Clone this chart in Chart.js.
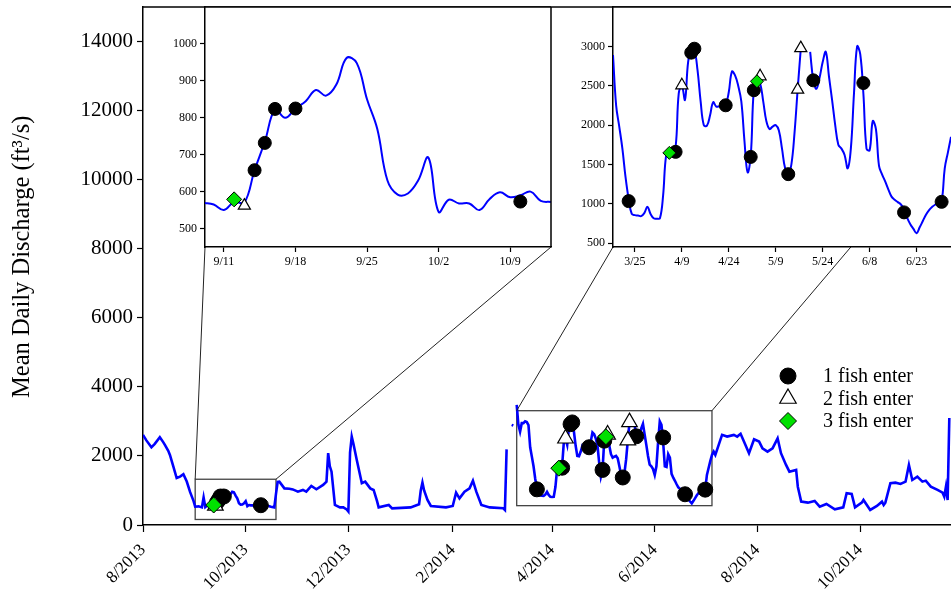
<!DOCTYPE html>
<html>
<head>
<meta charset="utf-8">
<script src="https://cdn.jsdelivr.net/npm/chart.js@4.4.1/dist/chart.umd.min.js"></script>
<style>
  html, body { margin: 0; padding: 0; background: #fff; width: 951px; height: 604px; overflow: hidden; }
  canvas { position: absolute; }
  #main { left: 0; top: 0; width: 951px; height: 604px; }
  #inset1 { left: 160px; top: 0; width: 393px; height: 290px; }
  #inset2 { left: 570px; top: 0; width: 381px; height: 290px; }
</style>
</head>
<body>
<canvas id="main" width="951" height="604"></canvas>
<canvas id="inset1" width="393" height="290"></canvas>
<canvas id="inset2" width="381" height="290"></canvas>
<script>
// ---- Mean daily discharge outside the two detail windows ----
const flowDates = [
  '2013-08-01','2013-08-03','2013-08-06','2013-08-08','2013-08-11','2013-08-13','2013-08-14','2013-08-16',
  '2013-08-17','2013-08-19','2013-08-21','2013-08-23','2013-08-25','2013-08-27','2013-08-29','2013-08-31',
  '2013-09-01','2013-09-03','2013-09-05','2013-09-06','2013-09-07','2013-09-08',
  '2013-10-14','2013-10-16','2013-10-18','2013-10-19','2013-10-20','2013-10-21','2013-10-24','2013-10-27',
  '2013-10-29','2013-11-01','2013-11-04','2013-11-06','2013-11-09','2013-11-12','2013-11-16','2013-11-18',
  '2013-11-19','2013-11-20','2013-11-21','2013-11-23','2013-11-26','2013-11-28','2013-11-30','2013-12-01',
  '2013-12-02','2013-12-03','2013-12-04','2013-12-06','2013-12-09','2013-12-11','2013-12-14','2013-12-16',
  '2013-12-18','2013-12-19','2013-12-25','2013-12-27','2014-01-07','2014-01-12','2014-01-13','2014-01-14',
  '2014-01-15','2014-01-17','2014-01-19','2014-01-28','2014-02-01','2014-02-03','2014-02-05','2014-02-08',
  '2014-02-11','2014-02-13','2014-02-15','2014-02-18','2014-02-23','2014-03-03','2014-03-04','2014-03-05',
  '2014-03-06','2014-03-08','2014-03-09','2014-03-10','2014-03-11','2014-03-12','2014-03-13','2014-03-14',
  '2014-03-15','2014-03-16','2014-03-17',
  '2014-07-05','2014-07-06','2014-07-07','2014-07-09','2014-07-11','2014-07-14','2014-07-18','2014-07-20',
  '2014-07-22','2014-07-24','2014-07-27','2014-07-30','2014-08-02','2014-08-04','2014-08-07','2014-08-10',
  '2014-08-13','2014-08-15','2014-08-18','2014-08-20','2014-08-24','2014-08-25','2014-08-27','2014-08-31',
  '2014-09-04','2014-09-07','2014-09-11','2014-09-16','2014-09-21','2014-09-23','2014-09-26','2014-09-28',
  '2014-10-02','2014-10-03','2014-10-07','2014-10-11','2014-10-14','2014-10-15','2014-10-16','2014-10-19',
  '2014-10-22','2014-10-25','2014-10-28','2014-10-30','2014-11-01','2014-11-04','2014-11-07','2014-11-09',
  '2014-11-12','2014-11-16','2014-11-19','2014-11-20','2014-11-21','2014-11-22','2014-11-23'
];
const flowValues = [
  2610, 2450, 2250, 2350, 2540, 2400, 2320, 2150,
  2030, 1700, 1360, 1400, 1470, 1260, 950, 700,
  530, 540, 510, 800, 520, 560,
  560, 530, 510, 900, 1250, 1255, 1060, 1050,
  1030, 965, 1015, 965, 1130, 1035, 1160, 1255,
  2080, 1700, 1545, 580, 510, 510, 450, 390,
  2100, 2560, 2350, 1880, 1210, 1255, 1060, 1015,
  700, 510, 580, 483, 510, 600, 1000, 1230,
  1000, 725, 550, 510, 550, 936, 773, 966,
  1063, 1285, 966, 580, 510, 483, 435, 2190,
  null, 2900, 2880, null, 3480, 2900, 2700, 2950,
  2950, 3000, 2980,
  2030, 2125, 2030, 2320, 2610, 2560, 2610, 2560,
  2640, 2415, 2080, 2480, 2415, 2220, 2125, 2220,
  2510, 2080, 1740, 1545, 1594, 1110, 676, 647,
  696, 531, 609, 454, 512, 918, 898, 512,
  647, 725, 435, 551, 676, 580, 647, 1208,
  1227, 1188, 1256, 1739, 1304, 1401, 1256, 1285,
  1111, 1015, 937, 821, 1111, 725, 3100
];

// ---- Daily discharge, 9 Sep - 13 Oct 2013 ----
const fall2013Start = '2013-09-09';
const fall2013Flow = [
  570, 565, 550, 572, 570, 658, 735, 822, 800, 825, 845, 875, 860, 890, 962, 948, 850, 770, 630, 592, 595, 630,
  692, 545, 578, 568, 568, 550, 580, 598, 585, 590, 600, 575, 572
];

// ---- Daily discharge, 18 Mar - 4 Jul 2014 ----
const spring2014Start = '2014-03-18';
const spring2014Flow = [
  2890, 2250, 1980, 1700, 1340, 1060, 870, 855, 850, 843, 880, 960, 870, 815,
  810, 815, 1100, 1620, 1660, 1690, 1720, 2400, 2500, 2320, 2800, 2960, 2950, 2700, 2300, 2000,
  1990, 2120, 2290, 2235, 2240, 2245, 2255, 2420, 2680, 2630, 2500, 2300, 1800, 1400,
  1600, 2450, 2570, 2530, 2300, 2050, 1950, 1980, 2000, 1930, 1700, 1450, 1380, 1500, 1900, 2450,
  2970, null, null, 2930, 2570, 2460, 2600, 2800, 2930, 2620, 2320, 2000, 1750, 1700, 1620,
  1450, 1700, 2400, 3000, 2900, 2400, 1700, 1680, 2050, 1950, 1480, 1370, 1280, 1180, 1090,
  1050, 1020, 990, 930, 820, 740, 680, 625, 700, 780, 860, 920, 960, 990, 1010,
  1030, 1450, 1650, 1850
];

// ---- Fish entry events ----
const oneFishDates = ['2013-09-14','2013-09-15','2013-09-16','2013-09-18','2013-10-10','2014-03-23','2014-04-07',
  '2014-04-12','2014-04-13','2014-04-23','2014-05-01','2014-05-02','2014-05-13','2014-05-21','2014-06-06',
  '2014-06-19','2014-07-01'];
const oneFishFlow = [658, 732, 824, 825, 573, 1033, 1659, 2920, 2970, 2251, 1595, 2442, 1376, 2568, 2534, 890, 1024];
const twoFishDates = ['2013-09-13','2014-04-09','2014-05-04','2014-05-16','2014-05-17'];
const twoFishFlow = [562, 2505, 2619, 2450, 2978];
const threeFishDates = ['2013-09-12','2014-04-05','2014-05-03'];
const threeFishFlow = [579, 1646, 2556];

// ---- Axis ticks ----
const mainTickDates = ['2013-08-01','2013-10-01','2013-12-01','2014-02-01','2014-04-01','2014-06-01','2014-08-01','2014-10-01'];
const mainTickLabels = ['8/2013','10/2013','12/2013','2/2014','4/2014','6/2014','8/2014','10/2014'];
const mainFlowTicks = [0, 2000, 4000, 6000, 8000, 10000, 12000, 14000];
const fallTickDates = ['2013-09-11','2013-09-18','2013-09-25','2013-10-02','2013-10-09'];
const fallTickLabels = ['9/11','9/18','9/25','10/2','10/9'];
const fallFlowTicks = [500, 600, 700, 800, 900, 1000];
const springTickDates = ['2014-03-25','2014-04-09','2014-04-24','2014-05-09','2014-05-24','2014-06-08','2014-06-23'];
const springTickLabels = ['3/25','4/9','4/24','5/9','5/24','6/8','6/23'];
const springFlowTicks = [500, 1000, 1500, 2000, 2500, 3000];

// ---- Detail windows marked on the full record ----
const fallWindow = { from: '2013-09-01', to: '2013-10-19', low: 160, high: 1325 };
const springWindow = { from: '2014-03-11', to: '2014-07-05', low: 560, high: 3310, linkDate: '2014-06-02' };

const SERIF = '"Liberation Serif", "Times New Roman", serif';
const dayOf = s => Date.UTC(+s.slice(0, 4), +s.slice(5, 7) - 1, +s.slice(8, 10)) / 864e5;
const pairs = (dates, values) => dates.map((d, i) => ({ x: dayOf(d), y: values[i] }));
const daily = (start, values) => values.map((v, i) => ({ x: dayOf(start) + i, y: v }));

// scales keep exactly the plot box given by the layout padding
const noScalePadding = s => { s.paddingTop = 0; s.paddingBottom = 0; s.paddingLeft = 0; s.paddingRight = 0; };

function datasets(lineData, lineWidth, tension, r) {
  return [
    { data: lineData, borderColor: '#0000ff', borderWidth: lineWidth, pointRadius: 0, tension: tension,
      spanGaps: false, fill: false, order: 4 },
    { data: pairs(oneFishDates, oneFishFlow), showLine: false, pointStyle: 'circle', pointRadius: r.circle,
      pointBackgroundColor: '#000', pointBorderColor: '#000', pointBorderWidth: 1, order: 3 },
    { data: pairs(twoFishDates, twoFishFlow), showLine: false, pointStyle: 'triangle', pointRadius: r.triangle,
      pointBackgroundColor: '#fff', pointBorderColor: '#000', pointBorderWidth: 1.2, order: 2 },
    { data: pairs(threeFishDates, threeFishFlow), showLine: false, pointStyle: 'rectRot', pointRadius: r.diamond,
      pointBackgroundColor: '#00e000', pointBorderColor: '#000', pointBorderWidth: 1, order: 1 }
  ];
}

function dateAxis(min, max, tickDates, tickLabels, opts) {
  return {
    type: 'linear', min: min, max: max,
    afterBuildTicks: s => { s.ticks = tickDates.map(d => ({ value: dayOf(d) })); },
    afterFit: s => { s.height = opts.height; noScalePadding(s); },
    ticks: { autoSkip: false, maxRotation: opts.rotation, minRotation: opts.rotation, padding: opts.padding,
      color: '#000', font: { family: SERIF, size: opts.size }, callback: (v, i) => tickLabels[i] },
    grid: { drawOnChartArea: false, tickLength: opts.tick, color: '#000', tickColor: '#000', tickWidth: 1.2 },
    border: { color: '#000', width: 1.5 }
  };
}

function flowAxis(min, max, tickValues, opts) {
  const axis = {
    min: min, max: max,
    afterBuildTicks: s => { s.ticks = tickValues.map(v => ({ value: v })); },
    afterFit: s => { s.width = opts.width; noScalePadding(s); },
    ticks: { color: '#000', padding: opts.padding, font: { family: SERIF, size: opts.size }, callback: v => String(v) },
    grid: { drawOnChartArea: false, tickLength: opts.tick, color: '#000', tickColor: '#000', tickWidth: 1.2 },
    border: { color: '#000', width: 1.5 }
  };
  if (opts.title) {
    axis.title = { display: true, text: opts.title, color: '#000', font: { family: SERIF, size: 24.5 },
      padding: { top: 8, bottom: 0 } };
  }
  return axis;
}

// Frame lines around an inset plot, with a white plot background
function framePlugin(sides) {
  return {
    id: 'frame',
    beforeDraw(chart) {
      const a = chart.chartArea, ctx = chart.ctx;
      ctx.save();
      ctx.fillStyle = '#fff';
      ctx.fillRect(a.left, a.top, a.right - a.left, a.bottom - a.top);
      ctx.restore();
    },
    afterDraw(chart) {
      const a = chart.chartArea, ctx = chart.ctx;
      ctx.save();
      ctx.strokeStyle = '#000';
      ctx.lineWidth = 1.5;
      ctx.beginPath();
      if (sides.top) { ctx.moveTo(a.left, a.top); ctx.lineTo(a.right, a.top); }
      if (sides.right) { ctx.moveTo(a.right, a.top); ctx.lineTo(a.right, a.bottom); }
      ctx.stroke();
      ctx.restore();
    }
  };
}

const baseOptions = (padding) => ({
  responsive: false, animation: false, events: [],
  layout: { padding: padding, autoPadding: false },
  plugins: { legend: { display: false }, tooltip: { enabled: false } }
});

// ---- Inset: Sep - Oct 2013 ----
const fallChart = new Chart(document.getElementById('inset1'), {
  type: 'line',
  data: { datasets: datasets(daily(fall2013Start, fall2013Flow), 2, 0.4, { circle: 6.5, triangle: 7, diamond: 7.5 }) },
  options: Object.assign(baseOptions({ top: 7, right: 2, bottom: 0, left: 0 }), {
    scales: {
      x: dateAxis(dayOf('2013-09-09') + 0.15, dayOf('2013-10-13'), fallTickDates, fallTickLabels,
        { height: 43, rotation: 0, padding: 3, size: 12, tick: 5 }),
      y: flowAxis(450, 1100, fallFlowTicks, { width: 45, padding: 3, size: 12, tick: 5 })
    }
  }),
  plugins: [framePlugin({ top: true, right: true })]
});

// ---- Inset: Mar - Jul 2014 ----
const springChart = new Chart(document.getElementById('inset2'), {
  type: 'line',
  data: { datasets: datasets(daily(spring2014Start, spring2014Flow), 2, 0.4, { circle: 6.5, triangle: 7, diamond: 6.5 }) },
  options: Object.assign(baseOptions({ top: 7, right: 0, bottom: 0, left: 0 }), {
    scales: {
      x: dateAxis(dayOf('2014-03-18'), dayOf('2014-07-04'), springTickDates, springTickLabels,
        { height: 43, rotation: 0, padding: 3, size: 12, tick: 5 }),
      y: flowAxis(450, 3500, springFlowTicks, { width: 43, padding: 3, size: 12, tick: 5 })
    }
  }),
  plugins: [framePlugin({ top: true, right: false })]
});

// ---- Full record ----
const fullRecord = pairs(flowDates, flowValues)
  .concat(daily(fall2013Start, fall2013Flow), daily(spring2014Start, spring2014Flow))
  .sort((a, b) => a.x - b.x);

const overlayPlugin = {
  id: 'overlay',
  beforeDatasetsDraw(chart) {
    const sx = chart.scales.x, sy = chart.scales.y, ctx = chart.ctx;
    ctx.save();
    ctx.strokeStyle = '#444';
    ctx.lineWidth = 1.3;
    [fallWindow, springWindow].forEach(w => {
      const x0 = sx.getPixelForValue(dayOf(w.from)), x1 = sx.getPixelForValue(dayOf(w.to));
      const y0 = sy.getPixelForValue(w.high), y1 = sy.getPixelForValue(w.low);
      ctx.strokeRect(x0, y0, x1 - x0, y1 - y0);
    });
    ctx.restore();
  },
  afterDraw(chart) {
    const sx = chart.scales.x, sy = chart.scales.y, ctx = chart.ctx, a = chart.chartArea;
    ctx.save();
    // top frame line
    ctx.strokeStyle = '#000';
    ctx.lineWidth = 1.5;
    ctx.beginPath();
    ctx.moveTo(a.left, a.top);
    ctx.lineTo(a.right, a.top);
    ctx.stroke();

    // links from each window to its inset
    const links = [
      [fallWindow, fallChart, [fallChart.chartArea.left, fallChart.chartArea.right]],
      [springWindow, springChart, [springChart.chartArea.left,
        springChart.scales.x.getPixelForValue(dayOf(springWindow.linkDate))]]
    ];
    ctx.strokeStyle = '#222';
    ctx.lineWidth = 1;
    ctx.beginPath();
    links.forEach(([w, inset, ends]) => {
      const ox = inset.canvas.offsetLeft, oy = inset.canvas.offsetTop;
      const by = oy + inset.chartArea.bottom;
      const wy = sy.getPixelForValue(w.high);
      ctx.moveTo(sx.getPixelForValue(dayOf(w.from)), wy);
      ctx.lineTo(ox + ends[0], by);
      ctx.moveTo(sx.getPixelForValue(dayOf(w.to)), wy);
      ctx.lineTo(ox + ends[1], by);
    });
    ctx.stroke();

    // legend
    const items = chart.data.datasets.slice(1);
    const lx = 788, ly = 376, step = 22.5;
    items.forEach((ds, i) => {
      const y = ly + i * step;
      ctx.fillStyle = ds.pointBackgroundColor;
      ctx.strokeStyle = ds.pointBorderColor;
      ctx.lineWidth = ds.pointBorderWidth;
      ctx.beginPath();
      const r = 8;
      if (ds.pointStyle === 'circle') {
        ctx.arc(lx, y, r, 0, Math.PI * 2);
      } else if (ds.pointStyle === 'triangle') {
        const t = 9.5;
        ctx.moveTo(lx, y - t);
        ctx.lineTo(lx + t * Math.sin(2 * Math.PI / 3), y + t / 2);
        ctx.lineTo(lx - t * Math.sin(2 * Math.PI / 3), y + t / 2);
        ctx.closePath();
      } else {
        const d = 8.5;
        ctx.moveTo(lx, y - d); ctx.lineTo(lx + d, y); ctx.lineTo(lx, y + d); ctx.lineTo(lx - d, y);
        ctx.closePath();
      }
      ctx.fill();
      ctx.stroke();
      ctx.fillStyle = '#000';
      ctx.font = '20px ' + SERIF;
      ctx.textBaseline = 'middle';
      ctx.textAlign = 'left';
      ctx.fillText(ds.label, 823, y + 1);
    });
    ctx.restore();
  }
};

const mainSets = datasets(fullRecord, 2.6, 0, { circle: 7.5, triangle: 9, diamond: 8 });
mainSets[1].label = '1 fish enter';
mainSets[2].label = '2 fish enter';
mainSets[3].label = '3 fish enter';

new Chart(document.getElementById('main'), {
  type: 'line',
  data: { datasets: mainSets },
  options: Object.assign(baseOptions({ top: 7, right: 0, bottom: 0, left: 0 }), {
    scales: {
      x: dateAxis(dayOf('2013-08-01'), dayOf('2014-11-24'), mainTickDates, mainTickLabels,
        { height: 79, rotation: 45, padding: 8, size: 17, tick: 7 }),
      // leading spaces lift the rotated title slightly above the axis midpoint
      y: flowAxis(0, 15000, mainFlowTicks, { width: 143, padding: 4, size: 21, tick: 6,
        title: '\u00a0\u00a0\u00a0Mean Daily Discharge (ft³/s)' })
    }
  }),
  plugins: [overlayPlugin]
});
</script>
</body>
</html>
